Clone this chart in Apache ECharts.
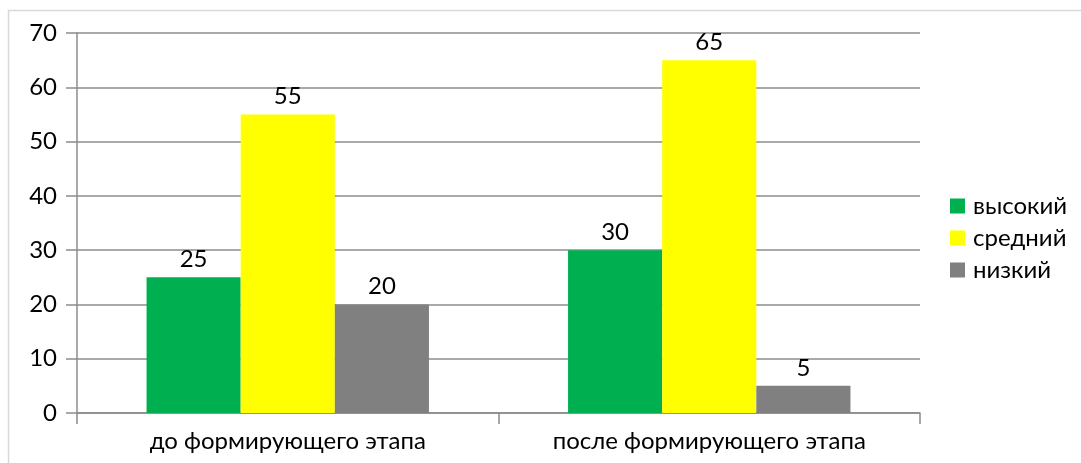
<!DOCTYPE html>
<html><head><meta charset="utf-8">
<script src="https://cdn.jsdelivr.net/npm/echarts@6/dist/echarts.min.js"></script>
<style>html,body{margin:0;padding:0;background:#fff}#c{width:1081px;height:463px}</style>
</head><body><div id="c"></div>
<script>
const categories = ['до формирующего этапа', 'после формирующего этапа'];
const seriesNames = ['высокий', 'средний', 'низкий'];
const vysokiy = [25, 30];
const sredniy = [55, 65];
const nizkiy = [20, 5];
const yTicks = [0, 10, 20, 30, 40, 50, 60, 70];
const colors = ['#00B050', '#FFFF00', '#808080'];
const FONT = 'Lato';
const FS = 24;
const chart = echarts.init(document.getElementById('c'));
const lab = {show: true, position: 'top', distance: 6, color: '#000', fontSize: FS, fontFamily: FONT};
const mk = (name, data, i) => ({name, type: 'bar', data, barGap: '0%', barCategoryGap: '33%',
  itemStyle: {color: colors[i]}, label: lab});
chart.setOption({
  animation: false,
  textStyle: {fontFamily: FONT},
  graphic: [{type: 'rect', shape: {x: 8.5, y: 10.5, width: 1200, height: 600},
    style: {fill: 'none', stroke: '#d9d9d9', lineWidth: 1.5}, silent: true}],
  grid: {left: 77, right: 161, top: 33, bottom: 50},
  legend: {orient: 'vertical', left: 950, top: 194, padding: 0, itemWidth: 15, itemHeight: 15, itemGap: 8,
    icon: 'rect', data: seriesNames,
    textStyle: {fontSize: FS, color: '#000', fontFamily: FONT, padding: [0, 0, 0, 3]}},
  xAxis: {type: 'category', data: categories,
    axisLine: {lineStyle: {color: '#8c8c8c', width: 1.5}},
    axisTick: {show: true, length: 11, lineStyle: {color: '#8c8c8c', width: 1.5}},
    axisLabel: {margin: 16, color: '#000', fontSize: FS, fontFamily: FONT}},
  yAxis: {type: 'value', min: yTicks[0], max: yTicks[yTicks.length - 1], interval: 10,
    axisLine: {show: true, lineStyle: {color: '#8c8c8c', width: 1.5}},
    axisTick: {show: true, length: 11, lineStyle: {color: '#8c8c8c', width: 1.5}},
    splitLine: {lineStyle: {color: '#8c8c8c', width: 1.5}},
    axisLabel: {margin: 20, color: '#000', fontSize: FS, fontFamily: FONT}},
  series: [mk(seriesNames[0], vysokiy, 0), mk(seriesNames[1], sredniy, 1), mk(seriesNames[2], nizkiy, 2)]
});
</script></body></html>
